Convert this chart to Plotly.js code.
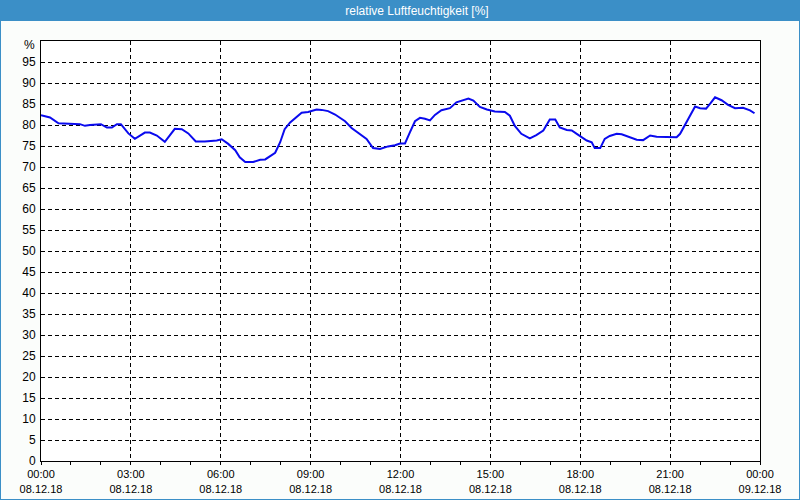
<!DOCTYPE html>
<html>
<head>
<meta charset="utf-8">
<script src="https://cdn.plot.ly/plotly-3.0.1.min.js"></script>
<style>
  html, body { margin: 0; padding: 0; background: #ffffff; }
  #chart { width: 800px; height: 500px; }
</style>
</head>
<body>
<div id="chart"></div>
<script>
// Measurement day
const day = "2018-12-08";
const nextDay = "2018-12-09";

// Sample times (HH:MM) on 08.12.18
const times = [
  "00:00","00:18","00:35","00:58","01:18","01:28","01:38","02:00","02:12","02:22",
  "02:32","02:40","02:55","03:08","03:28","03:38","03:52","04:08","04:28","04:42",
  "04:55","05:10","05:28","05:52","06:02","06:15","06:29","06:38","06:49","07:05",
  "07:19","07:29","07:38","07:49","07:59","08:08","08:19","08:29","08:42","08:55",
  "09:12","09:22","09:35","09:49","10:09","10:22","10:39","10:52","11:05","11:19",
  "11:35","11:49","11:59","12:09","12:19","12:29","12:39","12:49","12:59","13:09",
  "13:22","13:39","13:52","14:06","14:16","14:26","14:39","14:53","15:09","15:29",
  "15:39","15:49","16:02","16:19","16:32","16:46","16:59","17:10","17:19","17:33",
  "17:43","17:53","18:03","18:13","18:23","18:29","18:40","18:49","18:59","19:13",
  "19:23","19:36","19:53","20:06","20:20","20:33","20:53","21:13","21:20","21:30",
  "21:40","21:50","22:00","22:12","22:21","22:30","22:43","22:56","23:10","23:26",
  "23:40","23:49"
];

// Relative humidity [%]
const humidity = [
  82.3,81.8,80.4,80.3,80.2,79.8,80.0,80.2,79.4,79.4,
  80.2,80.2,78.0,76.7,78.2,78.2,77.5,76.0,79.1,79.0,
  78.0,76.1,76.1,76.3,76.6,75.5,74.0,72.3,71.2,71.2,
  71.7,71.8,72.6,73.4,75.9,79.0,80.6,81.6,82.9,83.1,
  83.7,83.6,83.3,82.5,80.9,79.3,77.9,76.7,74.5,74.3,
  74.9,75.2,75.6,75.6,78.3,80.9,81.7,81.5,81.1,82.4,
  83.5,84.0,85.4,85.9,86.3,85.8,84.3,83.7,83.2,83.1,
  82.2,79.8,77.9,76.8,77.6,78.7,81.3,81.3,79.4,78.8,
  78.7,77.9,77.2,76.3,75.9,74.5,74.5,76.7,77.4,77.9,
  77.8,77.2,76.5,76.4,77.5,77.2,77.1,77.1,77.9,80.0,
  82.2,84.4,84.0,83.9,85.2,86.6,85.9,84.8,84.0,84.1,
  83.5,82.8
];

// Axis tick definitions
const xTickHours = ["00:00","03:00","06:00","09:00","12:00","15:00","18:00","21:00"];
const xTickDate = "08.12.18";
const xEndLabel = "00:00<br>09.12.18";
const yTicks = [0,5,10,15,20,25,30,35,40,45,50,55,60,65,70,75,80,85,90,95];

const chartTitle = "relative Luftfeuchtigkeit [%]";
const yUnit = "%";

const xs = times.map(t => day + " " + t);
const tickvals = xTickHours.map(t => day + " " + t).concat([nextDay + " 00:00"]);
const ticktext = xTickHours.map(t => t + "<br>" + xTickDate).concat([xEndLabel]);

const W = 800, H = 500;
const mL = 41, mR = 40, mT = 41, mB = 39;
const pw = W - mL - mR, ph = H - mT - mB;
const blue = "#3b8fc7";

const trace = {
  x: xs,
  y: humidity,
  type: "scatter",
  mode: "lines",
  line: { color: "#0a0aee", width: 2 },
  hoverinfo: "x+y"
};

const layout = {
  width: W, height: H,
  margin: { l: mL, r: mR, t: mT, b: mB, pad: 0 },
  paper_bgcolor: "#fbfdfb",
  plot_bgcolor: "#ffffff",
  showlegend: false,
  font: { family: "Liberation Sans, Arial, sans-serif", size: 11, color: "#000000" },
  title: {
    text: chartTitle,
    font: { family: "Liberation Sans, Arial, sans-serif", size: 12, color: "#ffffff" },
    xref: "container", yref: "container",
    x: 417 / W, xanchor: "center",
    y: 1 - 10.5 / H, yanchor: "middle"
  },
  xaxis: {
    type: "date",
    range: [day + " 00:00", nextDay + " 00:00"],
    tickmode: "array",
    tickvals: tickvals,
    ticktext: ticktext,
    ticks: "outside",
    ticklen: 3,
    tickcolor: "#000000",
    showline: true, linecolor: "#000000", linewidth: 1, mirror: true,
    showgrid: true, gridcolor: "#000000", gridwidth: 1, griddash: "4px,3px",
    zeroline: false,
    minor: { dtick: 3600000, tick0: day + " 00:00", ticks: "outside", ticklen: 3, tickcolor: "#000000", showgrid: false },
    tickfont: { size: 11, color: "#000000" },
    fixedrange: true
  },
  yaxis: {
    range: [0, 100],
    tickmode: "array",
    tickvals: yTicks,
    ticks: "",
    ticklabelstandoff: 2,
    showline: true, linecolor: "#000000", linewidth: 1, mirror: true,
    showgrid: true, gridcolor: "#000000", gridwidth: 1, griddash: "4px,3px",
    zeroline: false,
    tickfont: { size: 12, color: "#000000" },
    fixedrange: true
  },
  annotations: [{
    text: yUnit,
    xref: "paper", yref: "paper",
    x: -4 / pw, y: 1 - 4 / ph,
    xanchor: "right", yanchor: "middle",
    showarrow: false,
    font: { size: 12, color: "#000000" }
  }],
  shapes: [
    { type: "rect", xref: "paper", yref: "paper", layer: "below",
      x0: -mL / pw, x1: 1 + mR / pw, y0: 1 + (mT - 21) / ph, y1: 1 + mT / ph,
      fillcolor: blue, line: { width: 0 } },
    { type: "rect", xref: "paper", yref: "paper", layer: "above",
      x0: -mL / pw, x1: 1 + mR / pw, y0: -mB / ph, y1: 1 + mT / ph,
      fillcolor: "rgba(0,0,0,0)", line: { color: blue, width: 2 } }
  ]
};

Plotly.newPlot("chart", [trace], layout, { displayModeBar: false, staticPlot: true });
</script>
</body>
</html>
